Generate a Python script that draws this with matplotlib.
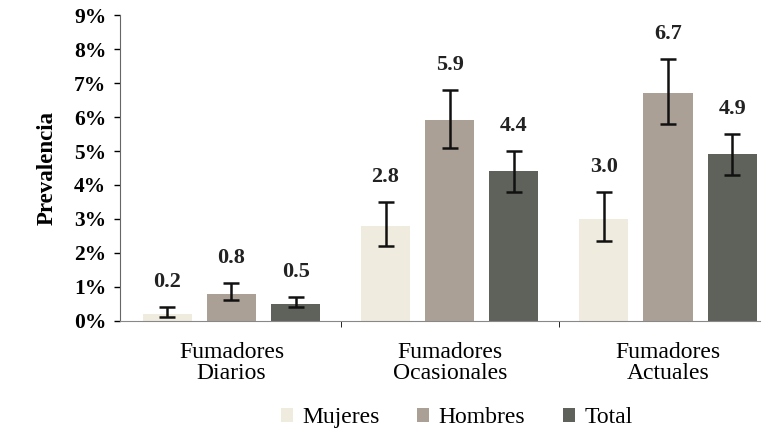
import numpy as np
import matplotlib.pyplot as plt
from matplotlib.patches import Patch

# ------------------ Datos ------------------
categorias = ['Fumadores\nDiarios', 'Fumadores\nOcasionales', 'Fumadores\nActuales']
series = ['Mujeres', 'Hombres', 'Total']

mujeres = [0.2, 2.8, 3.0]
hombres = [0.8, 5.9, 6.7]
total = [0.5, 4.4, 4.9]

# intervalos de confianza (inferior, superior)
mujeres_ic = [(0.1, 0.4), (2.2, 3.5), (2.35, 3.8)]
hombres_ic = [(0.6, 1.1), (5.1, 6.8), (5.8, 7.7)]
total_ic = [(0.4, 0.7), (3.8, 5.0), (4.3, 5.5)]

y_ticks = [0, 1, 2, 3, 4, 5, 6, 7, 8, 9]

colores = ['#efebdf', '#aaa096', '#5f625b']

plt.rcParams['font.family'] = ['Liberation Serif', 'DejaVu Serif']

fig = plt.figure(figsize=(7.65, 4.33), dpi=100)
ax = fig.add_axes([0.157, 0.259, 0.836, 0.706])

x = np.arange(len(categorias))
ancho = 0.225
desp = 0.294

for i, (vals, ic, col) in enumerate(zip([mujeres, hombres, total],
                                        [mujeres_ic, hombres_ic, total_ic],
                                        colores)):
    pos = x + (i - 1) * desp
    ax.bar(pos, vals, width=ancho, color=col, zorder=2)
    lo = [v - a for v, (a, b) in zip(vals, ic)]
    hi = [b - v for v, (a, b) in zip(vals, ic)]
    ax.errorbar(pos, vals, yerr=[lo, hi], fmt='none', ecolor='#111111',
                elinewidth=1.8, capsize=6, capthick=1.8, zorder=3)
    for p, v, (a, b) in zip(pos, vals, ic):
        ax.annotate(f'{v:.1f}', (p, b), xytext=(0, 11), textcoords='offset points',
                    ha='center', va='bottom', fontsize=16, fontweight='bold',
                    color='#222222')

ax.set_ylim(0, 9)
ax.set_xlim(-0.51, 2.42)
ax.set_yticks(y_ticks)
ax.set_yticklabels([f'{t}%' for t in y_ticks], fontsize=15.5, fontweight='bold')
ax.set_ylabel('Prevalencia', fontsize=16.5, fontweight='bold', labelpad=12)

ax.set_xticks(x)
ax.set_xticklabels(categorias, fontsize=17, linespacing=1.0)
ax.tick_params(axis='x', length=0, pad=15)
ax.set_xticks([0.5, 1.5], minor=True)
ax.tick_params(axis='x', which='minor', length=4, direction='out')
ax.tick_params(axis='y', length=4, direction='out', width=1, pad=6)

for s in ['top', 'right']:
    ax.spines[s].set_visible(False)
ax.spines['left'].set_color('#666666')
ax.spines['bottom'].set_color('#888888')

handles = [Patch(facecolor=c, label=s) for c, s in zip(colores, series)]
fig.legend(handles=handles, loc='center', bbox_to_anchor=(0.597, 0.035), ncol=3,
           frameon=False, fontsize=17, handlelength=0.5, handleheight=0.5,
           handletextpad=0.4, columnspacing=1.6)

fig.savefig('out.png', dpi=100)
